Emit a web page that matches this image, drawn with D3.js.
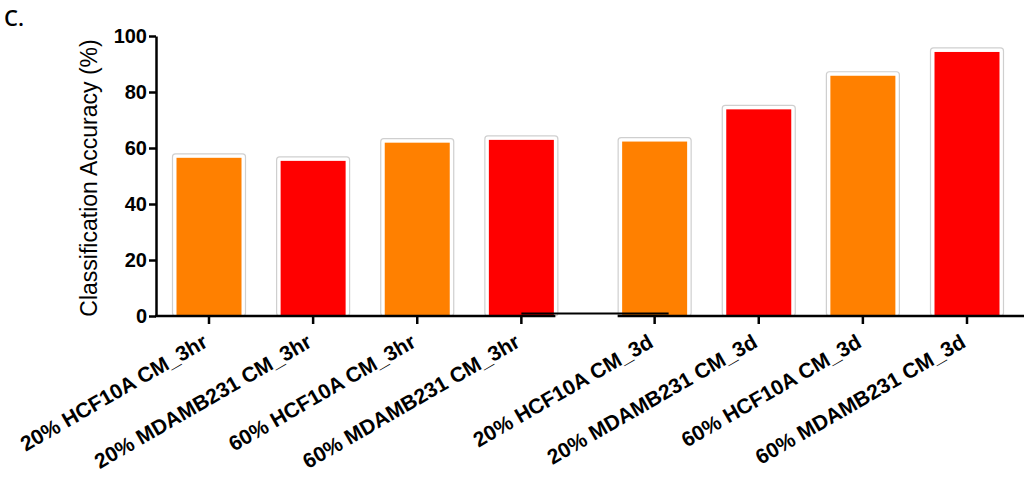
<!DOCTYPE html>
<html>
<head>
<meta charset="utf-8">
<script src="https://cdn.jsdelivr.net/npm/d3@7"></script>
<style>
  html, body { margin: 0; padding: 0; background: #fff; }
  svg { display: block; }
</style>
</head>
<body>
<svg id="chart" width="1030" height="479"></svg>
<script>
// Conditions (x categories), accuracies (%) and y tick values
const categories = [
  "20% HCF10A CM_3hr",
  "20% MDAMB231 CM_3hr",
  "60% HCF10A CM_3hr",
  "60% MDAMB231 CM_3hr",
  "20% HCF10A CM_3d",
  "20% MDAMB231 CM_3d",
  "60% HCF10A CM_3d",
  "60% MDAMB231 CM_3d"
];
const accuracy = [56.5, 55.4, 61.9, 62.9, 62.3, 73.8, 85.8, 94.3];
const barColors = ["#FF8000", "#FF0000", "#FF8000", "#FF0000", "#FF8000", "#FF0000", "#FF8000", "#FF0000"];
const yTicks = [0, 20, 40, 60, 80, 100];

const svg = d3.select("#chart");
const axisX0 = 156, axisX1 = 1024;
const barW = 65, pad = 4;

// 3hr and 3d groups are separated by a wider gap
const slot = (i) => i + (i >= 4 ? 0.28 : 0);
const x = d3.scaleLinear().domain([0, slot(7)]).range([209, 967]);
const y = d3.scaleLinear().domain([0, 100]).range([316, 36]);

// panel letter
svg.append("text")
  .attr("x", 4).attr("y", 26)
  .attr("font-family", "'Open Sans', sans-serif")
  .attr("font-size", 22)
  .attr("font-weight", 600)
  .attr("fill", "#000")
  .text("C.");

// bars: white rounded frame behind a solid fill
const bars = svg.append("g");
bars.selectAll("rect.frame")
  .data(accuracy)
  .join("rect")
  .attr("class", "frame")
  .attr("x", (d, i) => x(slot(i)) - barW / 2 - pad)
  .attr("y", d => y(d) - pad)
  .attr("width", barW + 2 * pad)
  .attr("height", d => y(0) - y(d) + pad)
  .attr("rx", 3)
  .attr("fill", "#fff")
  .attr("stroke", "#cfcfcf")
  .attr("stroke-width", 1.2);
bars.selectAll("rect.bar")
  .data(accuracy)
  .join("rect")
  .attr("class", "bar")
  .attr("x", (d, i) => x(slot(i)) - barW / 2)
  .attr("y", d => y(d))
  .attr("width", barW)
  .attr("height", d => y(0) - y(d))
  .attr("fill", (d, i) => barColors[i]);

// y axis
const yAxis = svg.append("g")
  .attr("transform", `translate(${axisX0},0)`)
  .call(d3.axisLeft(y).tickValues(yTicks).tickSize(7).tickSizeOuter(0).tickPadding(2));
yAxis.select(".domain").attr("stroke", "#000").attr("stroke-width", 2.5);
yAxis.selectAll(".tick line").attr("stroke", "#000").attr("stroke-width", 2.5);
yAxis.selectAll(".tick text")
  .attr("font-family", "'Liberation Sans', Arial, sans-serif")
  .attr("font-weight", "bold")
  .attr("font-size", 20)
  .attr("fill", "#000");

svg.append("text")
  .attr("transform", `translate(97,178) rotate(-90)`)
  .attr("text-anchor", "middle")
  .attr("font-family", "'Liberation Sans', Arial, sans-serif")
  .attr("font-size", 23)
  .attr("fill", "#000")
  .text("Classification Accuracy (%)");

// x axis line, broken between the two groups
const gapL = x(slot(3)) + 34, gapR = x(slot(4)) - 37;
const xLine = svg.append("g").attr("stroke", "#000").attr("fill", "none");
xLine.append("line").attr("x1", axisX0 - 1).attr("x2", gapL).attr("y1", y(0)).attr("y2", y(0)).attr("stroke-width", 2.5);
xLine.append("line").attr("x1", gapR).attr("x2", axisX1).attr("y1", y(0)).attr("y2", y(0)).attr("stroke-width", 2.5);
xLine.append("line").attr("x1", x(slot(3))).attr("x2", x(slot(4)) + 14).attr("y1", y(0) - 2.5).attr("y2", y(0) - 2.5).attr("stroke-width", 1.8);

// x ticks and rotated labels
const xt = svg.append("g").selectAll("g")
  .data(categories)
  .join("g")
  .attr("transform", (d, i) => `translate(${x(slot(i))},0)`);
xt.append("line")
  .attr("y1", y(0)).attr("y2", y(0) + 8)
  .attr("stroke", "#000").attr("stroke-width", 2.5);
xt.append("text")
  .attr("transform", "translate(0,346) rotate(-30)")
  .attr("text-anchor", "end")
  .attr("font-family", "'Liberation Sans', Arial, sans-serif")
  .attr("font-weight", "bold")
  .attr("font-size", 21)
  .attr("fill", "#000")
  .text(d => d);
</script>
</body>
</html>
